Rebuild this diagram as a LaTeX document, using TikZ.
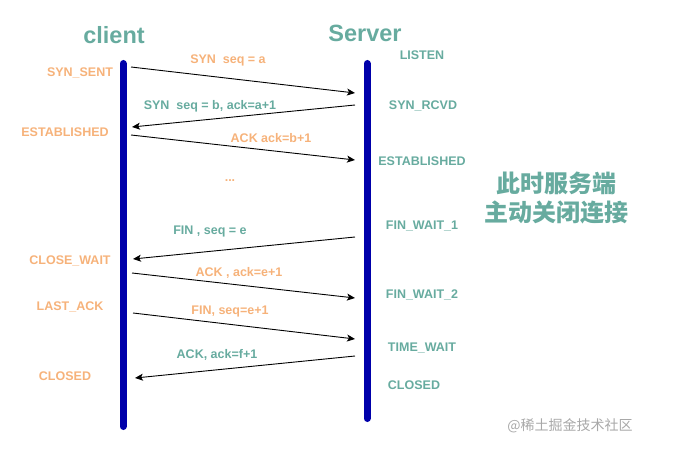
\documentclass[tikz,border=0pt]{standalone}
\usepackage{fontspec}
\setmainfont{Liberation Sans}
\newfontfamily\cjk{Noto Sans CJK SC}
\usetikzlibrary{arrows.meta}
\definecolor{tcpGreen}{HTML}{67AB9F}
\definecolor{tcpOrange}{HTML}{F6B27A}
\definecolor{tcpBar}{HTML}{0000AA}
\definecolor{tcpMark}{HTML}{A8A8A8}
\tikzset{
  lifeline/.style={line width=7pt, draw=tcpBar, line cap=round},
  msg/.style={-{Stealth[length=8pt, width=7pt, inset=2pt]}, line width=0.9pt, black},
  title/.style={inner sep=0pt, font=\fontsize{23.5}{26}\selectfont\bfseries, text=tcpGreen},
  cstate/.style={inner sep=0pt, font=\fontsize{12.5}{14}\selectfont\bfseries, text=tcpOrange},
  sstate/.style={inner sep=0pt, font=\fontsize{12.5}{14}\selectfont\bfseries, text=tcpGreen},
  note/.style={inner sep=0pt, font=\cjk\bfseries\fontsize{24}{30}\selectfont, text=tcpGreen, align=center},
  watermark/.style={inner sep=0pt, font=\cjk\fontsize{14}{16}\selectfont, text=tcpMark}
}

\begin{document}
\begin{tikzpicture}[x=1pt, y=-1pt]
  \useasboundingbox (0,0) rectangle (676,462);

  \node[title] (client) at (114,35) {client};
  \node[title] (server) at (365,33) {Server};

  \coordinate (ctop) at (123,63.5);
  \coordinate (cbot) at (123,426.5);
  \coordinate (stop) at (367,63.5);
  \coordinate (sbot) at (367,418.5);
  \draw[lifeline] (ctop) -- (cbot);
  \draw[lifeline] (stop) -- (sbot);

  \node[cstate] (synsent) at (80,73) {SYN\_SENT};
  \node[cstate] (cestab) at (65,132) {ESTABLISHED};
  \node[cstate] (closewait) at (70,261) {CLOSE\_WAIT};
  \node[cstate] (lastack) at (70,307) {LAST\_ACK};
  \node[cstate] (cclosed) at (65,376) {CLOSED};

  \node[sstate] (listen) at (422,55) {LISTEN};
  \node[sstate] (synrcvd) at (423,106) {SYN\_RCVD};
  \node[sstate] (sestab) at (422,161) {ESTABLISHED};
  \node[sstate] (finwait1) at (422,226) {FIN\_WAIT\_1};
  \node[sstate] (finwait2) at (422,295) {FIN\_WAIT\_2};
  \node[sstate] (timewait) at (422,348) {TIME\_WAIT};
  \node[sstate] (sclosed) at (414,385) {CLOSED};

  \coordinate (c1) at (131,67);  \coordinate (s1) at (355,93);
  \coordinate (s2) at (355,105); \coordinate (c2) at (132,127);
  \coordinate (c3) at (131,135); \coordinate (s3) at (355,160);
  \coordinate (s4) at (355,237); \coordinate (c4) at (133,259);
  \coordinate (c5) at (132,273); \coordinate (s5) at (355,298);
  \coordinate (c6) at (133,313); \coordinate (s6) at (355,339);
  \coordinate (s7) at (355,356); \coordinate (c7) at (135,378);

  \draw[msg] (c1) -- (s1);
  \draw[msg] (s2) -- (c2);
  \draw[msg] (c3) -- (s3);
  \draw[msg] (s4) -- (c4);
  \draw[msg] (c5) -- (s5);
  \draw[msg] (c6) -- (s6);
  \draw[msg] (s7) -- (c7);

  \node[cstate] (syn) at (228,60) {SYN\ \ seq = a};
  \node[sstate] (synack) at (210,106) {SYN\ \ seq = b, ack=a+1};
  \node[cstate] (ack) at (271,138) {ACK ack=b+1};
  \node[cstate] (dots) at (230,181) {...};
  \node[sstate] (fin1) at (210,231) {FIN , seq = e};
  \node[cstate] (ack1) at (239,273) {ACK , ack=e+1};
  \node[cstate] (fin2) at (230,311) {FIN, seq=e+1};
  \node[sstate] (ack2) at (217,355) {ACK, ack=f+1};

  \node[note] (active) at (556,198) {此时服务端\\[-1pt]主动关闭连接};
  \node[watermark] (wm) at (570,426) {@稀土掘金技术社区};
\end{tikzpicture}
\end{document}
